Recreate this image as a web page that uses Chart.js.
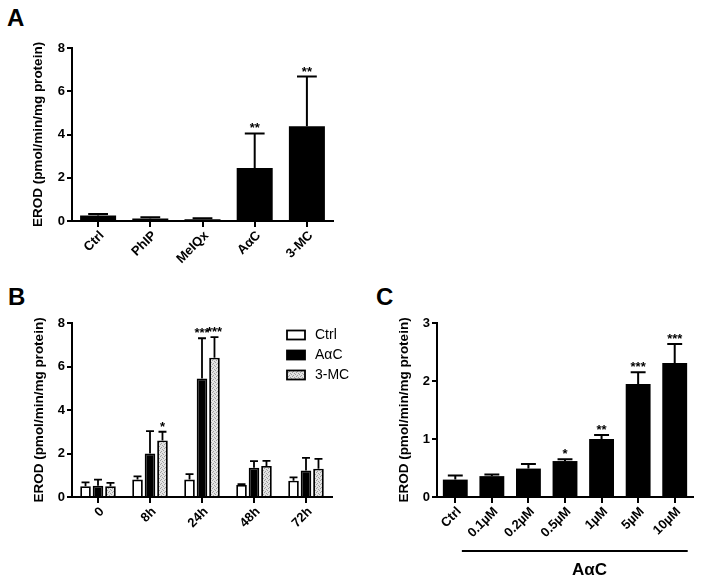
<!DOCTYPE html>
<html>
<head>
<meta charset="utf-8">
<script src="https://cdn.jsdelivr.net/npm/chart.js@4.4.1/dist/chart.umd.min.js"></script>
<style>
  body { margin: 0; background: #fff; width: 704px; height: 582px; position: relative; overflow: hidden;
         font-family: "Liberation Sans", Arial, sans-serif; }
  canvas { position: absolute; }
  .tag { position: absolute; font-weight: bold; font-size: 24px; line-height: 24px; color: #000; }
</style>
</head>
<body>
<div class="tag" style="left:7px;top:6px">A</div>
<div class="tag" style="left:8px;top:285px">B</div>
<div class="tag" style="left:376px;top:285px">C</div>
<canvas id="chartA" width="360" height="280" style="left:0;top:0"></canvas>
<canvas id="chartB" width="360" height="302" style="left:0;top:280px"></canvas>
<canvas id="chartC" width="344" height="302" style="left:360px;top:280px"></canvas>
<script>
// ---- data ----
const labelsA = ["Ctrl", "PhIP", "MeIQx", "AαC", "3-MC"];
const meanA = [0.25, 0.12, 0.08, 2.45, 4.38];
const errA = [0.07, 0.05, 0.05, 1.6, 2.3];
const starsA = ["", "", "", "**", "**"];

const labelsB = ["0", "8h", "24h", "48h", "72h"];
const ctrlB = [0.5, 0.8, 0.8, 0.55, 0.75];
const ctrlErrB = [0.17, 0.15, 0.25, 0.04, 0.15];
const aacB = [0.52, 2.0, 5.45, 1.35, 1.22];
const aacErrB = [0.28, 1.03, 1.85, 0.3, 0.58];
const mcB = [0.5, 2.6, 6.4, 1.43, 1.3];
const mcErrB = [0.15, 0.4, 0.95, 0.23, 0.45];
const aacStarsB = ["", "", "***", "", ""];
const mcStarsB = ["", "*", "***", "", ""];

const labelsC = ["Ctrl", "0.1µM", "0.2µM", "0.5µM", "1µM", "5µM", "10µM"];
const meanC = [0.30, 0.36, 0.49, 0.62, 1.0, 1.95, 2.31];
const errC = [0.07, 0.03, 0.08, 0.03, 0.07, 0.2, 0.33];
const starsC = ["", "", "", "*", "**", "***", "***"];

const yTitle = "EROD (pmol/min/mg protein)";
const FONT = '"Liberation Sans", Arial, sans-serif';

Chart.defaults.font.family = FONT;
Chart.defaults.color = "#000";
Chart.defaults.animation = false;

// upper error bars + significance stars
const errorBars = {
  id: "errorBars",
  afterDatasetsDraw(chart, args, opts) {
    const ctx = chart.ctx;
    const y = chart.scales.y;
    ctx.save();
    ctx.strokeStyle = "#000";
    ctx.fillStyle = "#000";
    ctx.lineWidth = opts.lineWidth;
    ctx.font = "bold 13px " + FONT;
    ctx.textAlign = "center";
    ctx.textBaseline = "alphabetic";
    chart.data.datasets.forEach((ds, i) => {
      chart.getDatasetMeta(i).data.forEach((bar, j) => {
        const top = y.getPixelForValue(ds.data[j] + ds.errors[j]);
        const half = bar.width * opts.capRatio / 2;
        ctx.beginPath();
        ctx.moveTo(bar.x, bar.y);
        ctx.lineTo(bar.x, top);
        ctx.moveTo(bar.x - half, top);
        ctx.lineTo(bar.x + half, top);
        ctx.stroke();
        if (ds.stars && ds.stars[j]) ctx.fillText(ds.stars[j], bar.x, top - 1);
      });
    });
    ctx.restore();
  }
};

// legend drawn inside panel B
const boxLegend = {
  id: "boxLegend",
  afterDraw(chart, args, opts) {
    if (!opts.show) return;
    const ctx = chart.ctx;
    ctx.save();
    ctx.font = "14px " + FONT;
    ctx.textBaseline = "middle";
    chart.data.datasets.forEach((ds, i) => {
      const cy = opts.y + i * opts.row;
      ctx.fillStyle = ds.backgroundColor;
      ctx.fillRect(opts.x, cy - 4.5, 18, 9);
      ctx.strokeStyle = "#000";
      ctx.lineWidth = 1.8;
      ctx.strokeRect(opts.x, cy - 4.5, 18, 9);
      ctx.fillStyle = "#000";
      ctx.fillText(ds.label, opts.x + 28, cy);
    });
    ctx.restore();
  }
};

// bracket under the dose labels of panel C
const doseBracket = {
  id: "doseBracket",
  afterDraw(chart, args, opts) {
    if (!opts.show) return;
    const ctx = chart.ctx;
    const x = chart.scales.x;
    const ly = chart.chartArea.bottom + 54;
    ctx.save();
    ctx.strokeStyle = "#000";
    ctx.lineWidth = 2;
    ctx.beginPath();
    ctx.moveTo(x.getPixelForValue(1) - 30, ly);
    ctx.lineTo(x.getPixelForValue(6) + 13, ly);
    ctx.stroke();
    ctx.fillStyle = "#000";
    ctx.font = "bold 17px " + FONT;
    ctx.textAlign = "center";
    ctx.textBaseline = "middle";
    ctx.fillText(opts.text, x.getPixelForValue(4) - 12, ly + 19);
    ctx.restore();
  }
};

function scales(yMax, step, yWidth, xHeight, lw, labelOffset) {
  return {
    x: {
      afterFit: (s) => { s.height = xHeight; },
      grid: { drawOnChartArea: false, offset: false, color: "#000", lineWidth: lw, tickLength: 6 },
      border: { color: "#000", width: lw },
      ticks: { minRotation: 45, maxRotation: 45, autoSkip: false, padding: 1, labelOffset: labelOffset,
               font: { size: 13, weight: "bold" } }
    },
    y: {
      min: 0, max: yMax,
      afterFit: (s) => { s.width = yWidth; },
      grid: { drawOnChartArea: false, color: "#000", lineWidth: lw, tickLength: 5 },
      border: { color: "#000", width: lw },
      ticks: { stepSize: step, padding: 2, font: { size: 13, weight: "bold" } },
      title: { display: true, text: yTitle, padding: 0, font: { size: 13.5, weight: "bold" } }
    }
  };
}

// panel A
new Chart(document.getElementById("chartA"), {
  type: "bar",
  data: {
    labels: labelsA,
    datasets: [{ data: meanA, errors: errA, stars: starsA, backgroundColor: "#000",
                 borderWidth: 0, categoryPercentage: 1, barPercentage: 0.69 }]
  },
  options: {
    responsive: false,
    layout: { padding: { left: 30, top: 48, right: 27, bottom: 0 } },
    plugins: { legend: { display: false }, tooltip: { enabled: false },
               errorBars: { lineWidth: 2, capRatio: 0.55 } },
    scales: scales(8, 2, 42, 59, 2, 4)
  },
  plugins: [errorBars]
});

// stippled grey fill for 3-MC
const ctxB = document.getElementById("chartB").getContext("2d");
const tile = document.createElement("canvas");
tile.width = 4; tile.height = 4;
const tg = tile.getContext("2d");
tg.fillStyle = "#e2e2e2"; tg.fillRect(0, 0, 4, 4);
tg.fillStyle = "#a0a0a0";
[[0, 0], [2, 1], [1, 3], [3, 2]].forEach(([px, py]) => tg.fillRect(px, py, 1, 1));
const dots = ctxB.createPattern(tile, "repeat");

// panel B
new Chart(ctxB, {
  type: "bar",
  data: {
    labels: labelsB,
    datasets: [
      { label: "Ctrl", data: ctrlB, errors: ctrlErrB, backgroundColor: "#fff", borderColor: "#000", borderWidth: 1.8 },
      { label: "AαC", data: aacB, errors: aacErrB, stars: aacStarsB, backgroundColor: "#000", borderColor: "#000", borderWidth: 1.8 },
      { label: "3-MC", data: mcB, errors: mcErrB, stars: mcStarsB, backgroundColor: dots, borderColor: "#000", borderWidth: 1.8 }
    ]
  },
  options: {
    responsive: false,
    datasets: { bar: { categoryPercentage: 0.72, barPercentage: 0.85 } },
    layout: { padding: { left: 31, top: 43, right: 28, bottom: 0 } },
    plugins: { legend: { display: false }, tooltip: { enabled: false },
               errorBars: { lineWidth: 1.8, capRatio: 0.75 },
               boxLegend: { show: true, x: 287, y: 55, row: 20 } },
    scales: scales(8, 2, 41, 85, 2, 4)
  },
  plugins: [errorBars, boxLegend]
});

// panel C
new Chart(document.getElementById("chartC"), {
  type: "bar",
  data: {
    labels: labelsC,
    datasets: [{ data: meanC, errors: errC, stars: starsC, backgroundColor: "#000",
                 borderWidth: 0, categoryPercentage: 1, barPercentage: 0.68 }]
  },
  options: {
    responsive: false,
    layout: { padding: { left: 36, top: 43, right: 11, bottom: 0 } },
    plugins: { legend: { display: false }, tooltip: { enabled: false },
               errorBars: { lineWidth: 2, capRatio: 0.6 },
               doseBracket: { show: true, text: "AαC" } },
    scales: scales(3, 1, 41, 85, 2, 4)
  },
  plugins: [errorBars, doseBracket]
});
</script>
</body>
</html>
